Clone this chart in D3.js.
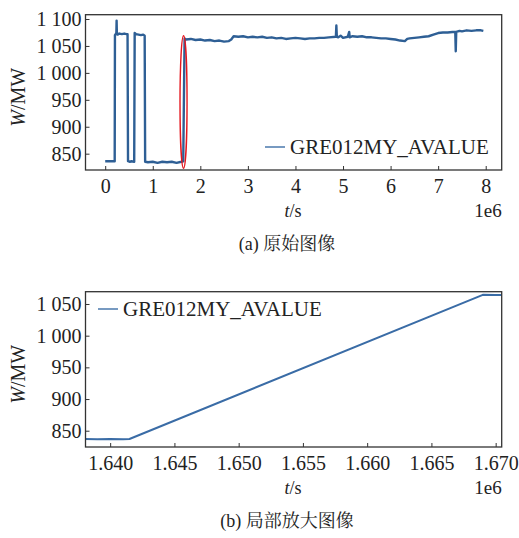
<!DOCTYPE html>
<html><head><meta charset="utf-8">
<script src="https://cdn.jsdelivr.net/npm/d3@7/dist/d3.min.js"></script>
</head>
<body style="margin:0;padding:0;background:#fff">
<svg id="c" width="519" height="538" style="display:block"></svg>
<script>
// ---------- data (t in units of 1e6 s, W in MW) ----------
const fullT = [0.00,0.20,0.205,0.22,0.235,0.24,0.245,0.26,0.30,0.35,0.40,0.45,0.47,0.48,0.52,0.55,0.61,0.62,0.65,0.70,0.75,0.80,0.83,0.84,0.90,1.00,1.10,1.20,1.30,1.40,1.50,1.60,1.641,1.669,1.70,1.80,1.90,2.00,2.10,2.20,2.30,2.40,2.50,2.60,2.65,2.70,2.80,2.90,3.00,3.10,3.20,3.30,3.40,3.50,3.60,3.70,3.80,3.90,4.00,4.10,4.20,4.30,4.40,4.50,4.60,4.70,4.85,4.86,4.87,4.90,4.95,5.00,5.10,5.13,5.14,5.20,5.30,5.40,5.50,5.60,5.70,5.80,5.90,6.00,6.10,6.20,6.30,6.35,6.40,6.50,6.60,6.70,6.80,6.90,7.00,7.10,7.20,7.30,7.36,7.37,7.38,7.45,7.50,7.60,7.70,7.80,7.90,7.95];
const fullW = [836,836,1070,1072,1074,1097,1075,1071,1073,1072,1073,1072,1072,836,835,836,835,1074,1072,1071,1070,1071,1069,835,834,835,833,835,834,835,833,835,836,1064,1062,1063,1061,1062,1060,1061,1059,1060,1058,1059,1062,1068,1067,1068,1066,1067,1066,1067,1065,1066,1064,1065,1063,1064,1065,1064,1063,1064,1064,1065,1065,1066,1067,1088,1067,1066,1069,1065,1067,1076,1066,1068,1067,1068,1066,1066,1065,1064,1064,1063,1062,1060,1059,1063,1064,1065,1066,1067,1068,1071,1074,1075,1075,1076,1076,1040,1076,1078,1077,1079,1078,1079,1079,1078];

const zoomT = [1.6380,1.6390,1.6400,1.6410,1.6415,1.6690,1.6700,1.6710];
const zoomW = [837,836.5,837,836.5,837,1064.5,1064,1064];

const fullXTicks = [0,1,2,3,4,5,6,7,8];
const fullYTicks = [850,900,950,1000,1050,1100];
const zoomXTicks = [1.640,1.645,1.650,1.655,1.660,1.665,1.670];
const zoomYTicks = [850,900,950,1000,1050];

const seriesName = "GRE012MY_AVALUE";
const xLabel = "s";
const yLabel = "MW";
const captionA = "(a) 原始图像";
const captionB = "(b) 局部放大图像";
const offsetText = "1e6";
// highlighted region in (a): t centre, W top, W bottom, half width (1e6 s)
const markT = 1.647, markTop = 1069, markBottom = 823, markHalf = 0.074;

// ---------- drawing ----------
const SERIF = "Liberation Serif";
const CAPF = "Liberation Serif, Noto Serif CJK SC";
const svg = d3.select("#c");
const L = 85.5, R = 501.7;
const fmtY = v => v >= 1000 ? String(v).replace(/^(\d)(\d{3})$/, "$1 $2") : String(v);

function txt(parent, x, y, size, family){
  return parent.append("text").attr("x", x).attr("y", y).attr("font-size", size)
    .attr("font-family", family || SERIF).attr("fill", "#222");
}

function panel(cfg){
  const {top, bottom, xDom, yDom, T, W, xTicks, yTicks, xFmt, lineColor, lineW, legX, legY, caption, id} = cfg;
  const x = d3.scaleLinear().domain(xDom).range([L, R]);
  const y = d3.scaleLinear().domain(yDom).range([bottom, top]);
  const g = svg.append("g");
  g.append("clipPath").attr("id", id).append("rect")
    .attr("x", L).attr("y", top).attr("width", R - L).attr("height", bottom - top);
  const pts = T.map((t, i) => [t, W[i]]);
  g.append("path").datum(pts)
    .attr("clip-path", `url(#${id})`)
    .attr("fill", "none").attr("stroke", lineColor).attr("stroke-width", lineW)
    .attr("stroke-linejoin", "round")
    .attr("d", d3.line().x(d => x(d[0])).y(d => y(d[1])));

  // axes (ticks inside)
  const xa = g.append("g").attr("transform", `translate(0,${bottom})`)
    .call(d3.axisBottom(x).tickValues(xTicks).tickSize(-4).tickPadding(9).tickFormat(xFmt));
  const ya = g.append("g").attr("transform", `translate(${L},0)`)
    .call(d3.axisLeft(y).tickValues(yTicks).tickSize(-4).tickPadding(4).tickFormat(fmtY));
  [xa, ya].forEach(a => {
    a.attr("font-family", SERIF).attr("font-size", 20);
    a.select(".domain").remove();
    a.selectAll("line").attr("stroke", "#333").attr("stroke-width", 1);
    a.selectAll("text").attr("fill", "#222");
  });

  // frame
  g.append("rect").attr("x", L).attr("y", top).attr("width", R - L).attr("height", bottom - top)
    .attr("fill", "none").attr("stroke", "#333").attr("stroke-width", 1.3);

  // axis labels
  const xl = txt(g, 293, bottom + 47, 18).attr("text-anchor", "middle");
  xl.append("tspan").attr("font-style", "italic").text("t");
  xl.append("tspan").text("/" + xLabel);
  txt(g, R, bottom + 47, 19).attr("text-anchor", "end").text(offsetText);
  const yl = g.append("g").attr("transform", `translate(25,${(top + bottom) / 2 + 5}) rotate(-90)`);
  const ylt = txt(yl, 0, 0, 20).attr("text-anchor", "middle");
  ylt.append("tspan").attr("font-style", "italic").text("W");
  ylt.append("tspan").text("/" + yLabel);

  // legend
  g.append("line").attr("x1", legX).attr("x2", legX + 20).attr("y1", legY).attr("y2", legY)
    .attr("stroke", "#4a78ad").attr("stroke-width", 1.5);
  txt(g, legX + 25, legY + 7, 21).text(seriesName);

  // caption
  txt(g, 287, bottom + 80, 18, CAPF).attr("text-anchor", "middle").text(caption);
  return {x, y, g};
}

const a = panel({id: "ca", top: 14.7, bottom: 170, xDom: [-0.414, 8.336], yDom: [819.7, 1108],
  T: fullT, W: fullW, xTicks: fullXTicks, yTicks: fullYTicks, xFmt: d3.format("d"),
  lineColor: "#2e5f95", lineW: 2.4, legX: 265, legY: 147, caption: captionA});

// red ellipse highlighting the ramp
a.g.append("ellipse")
  .attr("cx", a.x(markT)).attr("cy", (a.y(markTop) + a.y(markBottom)) / 2)
  .attr("rx", a.x(markT + markHalf) - a.x(markT))
  .attr("ry", (a.y(markBottom) - a.y(markTop)) / 2)
  .attr("fill", "none").attr("stroke", "#e5171f").attr("stroke-width", 1.4);

panel({id: "cb", top: 291.7, bottom: 447, xDom: [1.63808, 1.67047], yDom: [824.3, 1069.4],
  T: zoomT, W: zoomW, xTicks: zoomXTicks, yTicks: zoomYTicks, xFmt: d3.format(".3f"),
  lineColor: "#3a6ca6", lineW: 2, legX: 98, legY: 309, caption: captionB});
</script>
</body></html>
